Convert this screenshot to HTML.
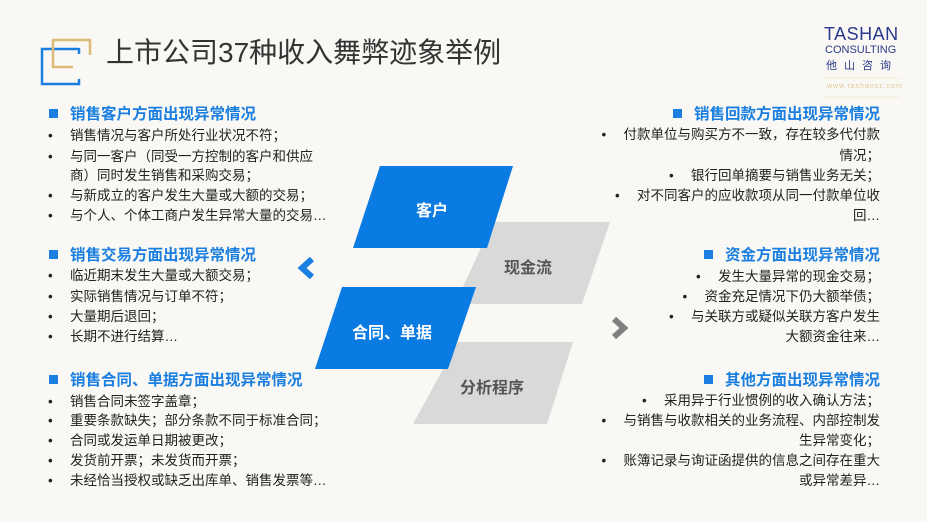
<!DOCTYPE html>
<html><head><meta charset="utf-8"><style>
body{margin:0;width:927px;height:522px;background:#f9f8f4;position:relative;overflow:hidden;font-family:"Liberation Sans","Noto Sans CJK SC",sans-serif;}
.a{position:absolute;white-space:nowrap;}
.l{position:absolute;left:48px;height:20px;line-height:20px;font-size:13.5px;color:#222;white-space:nowrap;}
.l b{display:inline-block;width:22px;font-weight:normal;}
.h{position:absolute;height:22px;line-height:22px;font-size:15.5px;font-weight:bold;color:#1a7fe0;white-space:nowrap;}
.h i{display:inline-block;width:9px;height:9px;background:#1a7fe0;margin-right:12px;vertical-align:1px;}
.r{position:absolute;right:47px;height:20px;line-height:20px;font-size:13.5px;color:#222;white-space:nowrap;text-align:right;}
.r b{display:inline-block;width:22px;font-weight:normal;text-align:left;}
</style></head><body>
<svg width="927" height="522" style="position:absolute;left:0;top:0">
<polyline points="79,48 79,54" stroke="#1a7fe0" stroke-width="2.5" fill="none"/>
<polyline points="79,79 79,84 42,84 42,49 79,49" stroke="#1a7fe0" stroke-width="2.5" fill="none"/>
<polyline points="73,67 53,67 53,40 90,40 90,55" stroke="#dcbb78" stroke-width="2.5" fill="none"/>
<polygon points="493,222 610,222 582,304 455,304" fill="#d9d9d9"/>
<polygon points="458,342 573,342 547,424 413,424" fill="#d9d9d9"/>
<polygon points="380,166 513,166 487,248 353,248" fill="#0a7be3"/>
<polygon points="342,287 476,287 448,369 315,369" fill="#0a7be3"/>
<polyline points="312,259 302,268 312,277" stroke="#1a7fe0" stroke-width="6" fill="none"/>
<polyline points="614,319 624,328 614,337" stroke="#808080" stroke-width="6" fill="none"/>
<line x1="825" y1="78" x2="900" y2="78" stroke="#ecd9b5" stroke-width="1" stroke-dasharray="1,1"/>
<line x1="825" y1="97" x2="900" y2="97" stroke="#ecd9b5" stroke-width="1" stroke-dasharray="1,1"/>
</svg>
<div class="a" style="left:106px;top:31px;font-size:28px;color:#333;">上市公司37种收入舞弊迹象举例</div>
<div class="a" style="left:824px;top:24px;font-size:18px;color:#2b3a8a;letter-spacing:0.5px;">TASHAN</div>
<div class="a" style="left:825px;top:44px;font-size:11px;color:#2b3a8a;">CONSULTING</div>
<div class="a" style="left:826px;top:57px;font-size:11px;color:#2b3a8a;letter-spacing:7px;">他山咨询</div>
<div class="a" style="left:827px;top:83px;font-size:7px;color:#e0c99a;letter-spacing:1px;">www.tashansz.com</div>
<div class="a" style="left:416px;top:197px;font-size:16px;font-weight:bold;color:#fff;">客户</div>
<div class="a" style="left:504px;top:254px;font-size:16px;font-weight:bold;color:#555;">现金流</div>
<div class="a" style="left:352px;top:319px;font-size:16px;font-weight:bold;color:#fff;">合同、单据</div>
<div class="a" style="left:460px;top:374px;font-size:16px;font-weight:bold;color:#555;">分析程序</div>

<div class="h" style="left:49px;top:104px;"><i></i>销售客户方面出现异常情况</div>
<div class="l" style="top:126px"><b>•</b>销售情况与客户所处行业状况不符；</div>
<div class="l" style="top:147px"><b>•</b>与同一客户（同受一方控制的客户和供应</div>
<div class="l" style="top:166px"><b></b>商）同时发生销售和采购交易；</div>
<div class="l" style="top:186px"><b>•</b>与新成立的客户发生大量或大额的交易；</div>
<div class="l" style="top:206px"><b>•</b>与个人、个体工商户发生异常大量的交易…</div>

<div class="h" style="left:49px;top:245px;"><i></i>销售交易方面出现异常情况</div>
<div class="l" style="top:266px"><b>•</b>临近期末发生大量或大额交易；</div>
<div class="l" style="top:287px"><b>•</b>实际销售情况与订单不符；</div>
<div class="l" style="top:307px"><b>•</b>大量期后退回；</div>
<div class="l" style="top:327px"><b>•</b>长期不进行结算…</div>

<div class="h" style="left:49px;top:370px;"><i></i>销售合同、单据方面出现异常情况</div>
<div class="l" style="top:392px"><b>•</b>销售合同未签字盖章；</div>
<div class="l" style="top:411px"><b>•</b>重要条款缺失；部分条款不同于标准合同；</div>
<div class="l" style="top:431px"><b>•</b>合同或发运单日期被更改；</div>
<div class="l" style="top:451px"><b>•</b>发货前开票；未发货而开票；</div>
<div class="l" style="top:471px"><b>•</b>未经恰当授权或缺乏出库单、销售发票等…</div>

<div class="h" style="right:47px;top:104px;"><i></i>销售回款方面出现异常情况</div>
<div class="r" style="top:125px"><b>•</b>付款单位与购买方不一致，存在较多代付款</div>
<div class="r" style="top:146px">情况；</div>
<div class="r" style="top:166px"><b>•</b>银行回单摘要与销售业务无关；</div>
<div class="r" style="top:186px"><b>•</b>对不同客户的应收款项从同一付款单位收</div>
<div class="r" style="top:206px">回…</div>

<div class="h" style="right:47px;top:245px;"><i></i>资金方面出现异常情况</div>
<div class="r" style="top:267px"><b>•</b>发生大量异常的现金交易；</div>
<div class="r" style="top:287px"><b>•</b>资金充足情况下仍大额举债；</div>
<div class="r" style="top:307px"><b>•</b>与关联方或疑似关联方客户发生</div>
<div class="r" style="top:327px">大额资金往来…</div>

<div class="h" style="right:47px;top:370px;"><i></i>其他方面出现异常情况</div>
<div class="r" style="top:391px"><b>•</b>采用异于行业惯例的收入确认方法；</div>
<div class="r" style="top:411px"><b>•</b>与销售与收款相关的业务流程、内部控制发</div>
<div class="r" style="top:431px">生异常变化；</div>
<div class="r" style="top:451px"><b>•</b>账簿记录与询证函提供的信息之间存在重大</div>
<div class="r" style="top:471px">或异常差异…</div>
</body></html>
